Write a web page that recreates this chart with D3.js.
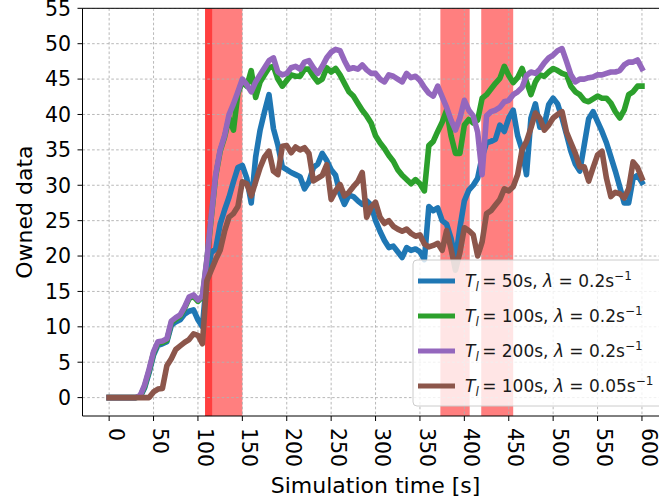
<!DOCTYPE html>
<html>
<head>
<meta charset="utf-8">
<script src="https://cdn.jsdelivr.net/npm/d3@7"></script>
<style>
  body { margin: 0; background: #fff; }
  svg { display: block; font-family: "DejaVu Sans", sans-serif; }
</style>
</head>
<body>
<svg id="chart" width="659" height="504"></svg>
<script>
// Sampling time of every series, in seconds
const timeSeconds = d3.range(0, 601, 5);

// Owned data per node over time, one array per configuration
const ownedTl50 = [
  0, 0, 0, 0, 0, 0, 0, 0.1, 1.4, 3.5,
  6, 7.4, 7.6, 7.9, 10.2, 10.7, 11, 11.8, 12.2, 12.4,
  11, 10, 17, 20.5, 21, 24.5, 26.5, 28.3, 30.5, 32.5,
  32.8, 31, 27.5, 34, 37.8, 40.4, 42.8, 38, 35.7, 32.6,
  32.2, 31.8, 31.5, 31.2, 29.5, 30.5, 32.5, 33, 34.5, 33.5,
  32.2, 31.4, 28.8, 27.3, 28.6, 28.4, 27.8, 27.3, 27.8, 27.2,
  25, 23.5, 22.2, 21.2, 21.4, 20.6, 19.8, 21.2, 20.8, 21,
  20.6, 19.5, 27, 26.4, 26.8, 25, 24.5, 22.5, 19.5, 24,
  27.8, 29.3, 30, 31, 34, 36, 36.2, 36.5, 38.5, 37.6,
  39.5, 40.6, 37, 35, 31.5, 39.5, 41.5, 38.2, 38.5, 41.4,
  42.3, 41.5, 39.5, 37.2, 34.8, 33, 32, 35.7, 39.4, 40.4,
  39, 37.6, 36, 34, 32, 29.8, 27.5, 27.5, 31, 31.4,
  30.4
];
const ownedTl100 = [
  0, 0, 0, 0, 0, 0, 0, 0.2, 1.6, 3.8,
  6.3, 7.7, 7.8, 8.1, 10.6, 11.1, 11.5, 12.6, 14, 14.3,
  13.6, 14.2, 19.3, 25.4, 31.3, 34.8, 36.8, 39.5, 37.8, 43,
  44.6, 44, 46.2, 42.4, 44.6, 45.6, 46.6, 46.8, 45, 44,
  44.8, 45.6, 45.4, 45.4, 46.4, 46.4, 45.4, 44.6, 45, 46.6,
  46, 46.5, 45.6, 44.4, 43.2, 42.6, 41.6, 40.6, 39.8, 38.8,
  37, 36, 35.2, 34.2, 33.4, 32.2, 31.4, 30.8, 30.2, 30.8,
  30.2, 29.2, 35.6, 36.2, 37.6, 38.9, 40.6, 37, 34.5, 34.5,
  38.5, 39.3, 38.8, 39.2, 42.3, 42.8, 43.6, 44.4, 45.1, 46.8,
  45.5, 44.5, 45.2, 46.5, 44.6, 42.8, 44.6, 45.6, 45.4, 46,
  46.5, 46.2, 45.8, 45.6, 44, 43.2, 42.8, 42, 41.8, 42.2,
  42.6, 42.3, 42.3, 41.6, 40.4, 39.5, 40.6, 42.8, 43.2, 44,
  44
];
const ownedTl200 = [
  0, 0, 0, 0, 0, 0, 0, 0.3, 1.8, 4,
  6.5, 7.9, 8, 8.3, 10.8, 11.3, 11.7, 12.8, 14.2, 14.5,
  13.8, 14.4, 19.5, 25.6, 31.5, 35, 37, 40, 41.5, 43.2,
  45, 44.2, 43.2, 44.6, 45.6, 46.6, 47.6, 48, 46, 45.6,
  45.8, 46.6, 46.8, 46.4, 47.4, 47.6, 46.6, 45.8, 46.8, 48,
  48.8, 49.2, 49, 47.6, 46.4, 46.6, 46.4, 47, 46.3, 45.8,
  45.8, 45, 44.6, 45.6, 45.4, 45, 44.6, 45.8, 45.2, 45.4,
  44.8, 43.8, 43, 42.6, 44, 42.5, 41, 39.2, 37.8, 39.5,
  42, 40.6, 39.8, 37.5, 31.5, 39.8, 40.4, 40.6, 41, 41.8,
  42, 42.8, 43.2, 43.8, 45.5, 46, 45.8, 46.4, 47.3, 48,
  48.4, 49, 49.3, 47.5, 45.6, 44.6, 45, 45, 45.2, 45.3,
  45.6, 45.6, 45.8, 46, 46, 46.2, 47, 47.4, 47.4, 47.7,
  46.5
];
const ownedTl100Slow = [
  0, 0, 0, 0, 0, 0, 0, 0, 0, 0,
  0.8, 1.2, 1.3, 4.5, 5.5, 6.8, 7.3, 7.8, 8.2, 9,
  8.8, 7.6, 16.5, 18, 19.5, 20.8, 23.5, 25.5, 26, 27,
  30.5, 30.2, 28.5, 30.5, 32.5, 34, 34.8, 32, 31.5, 35.5,
  35.6, 34.6, 35.4, 35, 35.3, 34.5, 30.6, 31, 31.4, 32.9,
  28, 29.2, 30.1, 28.5, 29, 29.8, 30.5, 31.8, 25.5, 26.9,
  27.6, 25.5, 24.6, 25, 24.2, 23.8, 23.5, 23.8, 23.2, 22.8,
  23, 21.7, 21.3, 21.5, 21.8, 20.8, 23.6, 21, 18, 20.5,
  24, 23.6, 23, 20, 22, 26, 26.4, 27.2, 28, 29.5,
  29.2, 29.8, 31.5, 35, 36.2, 38.1, 40.2, 39.5, 37.8, 38.5,
  39.5, 40, 40.4, 37.5, 36, 34.5, 32.6, 32.6, 30.6, 32.5,
  34.3, 34.8, 31, 28.4, 29, 28.8, 28.2, 29.5, 33.3, 32.5,
  31
];

// Legend parameters of each configuration
const tlValues = ["50", "100", "200", "100"];
const lambdaValues = ["0.2", "0.2", "0.2", "0.05"];
const seriesColors = ["#1f77b4", "#2ca02c", "#9467bd", "#8c564b"];

// Time windows highlighted in red, in seconds
const highlightStart = [108, 108, 373, 419];
const highlightEnd = [150, 116, 406, 455];

// Axis ticks
const xTicks = d3.range(0, 601, 50);
const yTicks = d3.range(0, 56, 5);

const allSeries = [ownedTl50, ownedTl100, ownedTl200, ownedTl100Slow];

const svg = d3.select("#chart");
const W = 659, H = 504;
svg.append("rect").attr("width", W).attr("height", H).attr("fill", "#fff");

const pLeft = 82.5, pRight = 668.6, pTop = 8.3, pBottom = 416;
const x = d3.scaleLinear().domain([-30, 630]).range([pLeft, pRight]);
const y = d3.scaleLinear().domain([-2.6, 55]).range([pBottom, pTop]);

svg.append("defs").append("clipPath").attr("id", "plot-clip")
  .append("rect").attr("x", pLeft).attr("y", pTop)
  .attr("width", pRight - pLeft).attr("height", pBottom - pTop);

const plot = svg.append("g").attr("clip-path", "url(#plot-clip)");

// Highlighted windows
plot.selectAll("rect.win")
  .data(highlightStart.map((s, i) => [s, highlightEnd[i]]))
  .join("rect")
  .attr("class", "win")
  .attr("x", d => x(d[0]))
  .attr("width", d => x(d[1]) - x(d[0]))
  .attr("y", pTop).attr("height", pBottom - pTop)
  .attr("fill", "red").attr("fill-opacity", 0.5);

// Grid
const grid = plot.append("g")
  .attr("stroke", "#b0b0b0").attr("stroke-width", 0.9)
  .attr("stroke-dasharray", "2.6,2.2");
grid.selectAll("line.gx").data(xTicks).join("line")
  .attr("class", "gx")
  .attr("x1", d => x(d)).attr("x2", d => x(d))
  .attr("y1", pTop).attr("y2", pBottom);
grid.selectAll("line.gy").data(yTicks).join("line")
  .attr("class", "gy")
  .attr("y1", d => y(d)).attr("y2", d => y(d))
  .attr("x1", pLeft).attr("x2", pRight);

// Series lines
const line = d3.line()
  .x((d, i) => x(timeSeconds[i]))
  .y(d => y(d));
plot.selectAll("path.series").data(allSeries).join("path")
  .attr("class", "series")
  .attr("d", line)
  .attr("fill", "none")
  .attr("stroke", (d, i) => seriesColors[i])
  .attr("stroke-width", 5.6)
  .attr("stroke-linejoin", "round")
  .attr("stroke-linecap", "square");

// Spines
const spines = svg.append("g").attr("stroke", "#000").attr("stroke-width", 1).attr("fill", "none");
spines.append("line").attr("x1", pLeft).attr("x2", pLeft).attr("y1", pTop).attr("y2", pBottom);
spines.append("line").attr("x1", pLeft).attr("x2", pRight).attr("y1", pBottom).attr("y2", pBottom);
spines.append("line").attr("x1", pLeft).attr("x2", pRight).attr("y1", pTop).attr("y2", pTop);

// Y axis ticks and labels
const yAxis = svg.append("g");
yAxis.selectAll("line").data(yTicks).join("line")
  .attr("x1", pLeft - 5).attr("x2", pLeft)
  .attr("y1", d => y(d)).attr("y2", d => y(d))
  .attr("stroke", "#000");
yAxis.selectAll("text").data(yTicks).join("text")
  .attr("x", pLeft - 11.5).attr("y", d => y(d)).attr("dy", "0.36em")
  .attr("text-anchor", "end").attr("font-size", 20.5).attr("fill", "#000")
  .text(d => d);

// X axis ticks and labels (rotated)
const xAxis = svg.append("g");
xAxis.selectAll("line").data(xTicks).join("line")
  .attr("x1", d => x(d)).attr("x2", d => x(d))
  .attr("y1", pBottom).attr("y2", pBottom + 5)
  .attr("stroke", "#000");
xAxis.selectAll("text").data(xTicks).join("text")
  .attr("transform", d => `translate(${x(d)},${pBottom + 12}) rotate(90)`)
  .attr("text-anchor", "start").attr("dy", "0.02em")
  .attr("font-size", 20.5).attr("fill", "#000")
  .text(d => d);

// Axis titles
svg.append("text")
  .attr("x", (pLeft + pRight) / 2).attr("y", 493)
  .attr("text-anchor", "middle").attr("font-size", 22).attr("fill", "#000")
  .text("Simulation time [s]");
svg.append("text")
  .attr("transform", `translate(32,${(pTop + pBottom) / 2}) rotate(-90)`)
  .attr("text-anchor", "middle").attr("font-size", 22).attr("fill", "#000")
  .text("Owned data");

// Legend
const legend = svg.append("g").attr("transform", "translate(413,260)");
legend.append("rect")
  .attr("width", 300).attr("height", 146).attr("rx", 4)
  .attr("fill", "#fff").attr("fill-opacity", 0.8)
  .attr("stroke", "#cccccc").attr("stroke-width", 1);
const rowY = [21, 56, 91, 126];
const items = legend.selectAll("g.item").data(tlValues).join("g")
  .attr("class", "item")
  .attr("transform", (d, i) => `translate(0,${rowY[i]})`);
items.append("line")
  .attr("x1", 5).attr("x2", 42).attr("y1", 0).attr("y2", 0)
  .attr("stroke", (d, i) => seriesColors[i]).attr("stroke-width", 5);
const label = items.append("text")
  .attr("x", 52).attr("y", 0).attr("dy", "0.35em")
  .attr("font-size", 17).attr("fill", "#1a1a1a");
label.append("tspan").attr("font-style", "italic").text("T");
label.append("tspan").attr("font-style", "italic").attr("font-size", 12).attr("dy", 4).text("l");
label.append("tspan").attr("dy", -4).text((d) => "\u2009= " + d + "s, ");
label.append("tspan").attr("font-style", "italic").text("\u03bb");
label.append("tspan").text((d, i) => " = " + lambdaValues[i] + "s");
label.append("tspan").attr("font-size", 12).attr("dy", -7).text("\u22121");
</script>
</body>
</html>
